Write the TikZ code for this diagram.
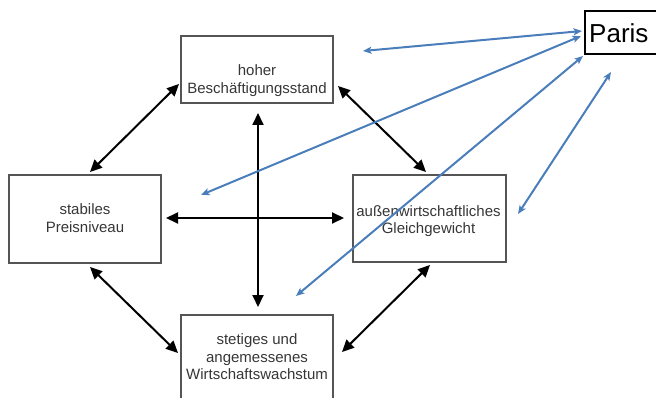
\documentclass[tikz,border=0pt]{standalone}
\usepackage{fontspec}
\setmainfont{Liberation Sans}
\usetikzlibrary{arrows.meta}
\definecolor{boxgray}{HTML}{555555}
\definecolor{txtgray}{HTML}{363636}
\definecolor{linkblue}{HTML}{4A7EBB}
\begin{document}
\begin{tikzpicture}[x=1pt,y=-1pt,
  goal/.style={draw=boxgray, line width=1.3pt, rectangle, inner sep=0pt},
  goaltext/.style={text=txtgray, align=center, inner sep=0pt,
    font=\fontsize{15}{17.5}\selectfont},
  link/.style={black, line width=2pt,
    {Triangle[length=12pt,width=11pt]}-{Triangle[length=12pt,width=11pt]}},
  bluelink/.style={linkblue, line width=2pt,
    {Stealth[length=8.5pt,width=7pt,inset=2pt]}-{Stealth[length=8.5pt,width=7pt,inset=2pt]}}
]
\useasboundingbox (0,0) rectangle (656,398);
\clip (0,0) rectangle (656,398);

% the four goals
\node[goal, minimum width=152pt, minimum height=67pt] (hbox) at (257,69.5) {};
\node[goaltext] (htext) at (257,80.5) {hoher\\Beschäftigungsstand};

\node[goal, minimum width=152pt, minimum height=88pt] (sbox) at (85,219) {};
\node[goaltext] (stext) at (85,218) {stabiles\\Preisniveau};

\node[goal, minimum width=153pt, minimum height=87pt] (abox) at (429.5,218.5) {};
\node[goaltext] (atext) at (428.5,221) {außenwirtschaftliches\\Gleichgewicht};

\node[goal, minimum width=152pt, minimum height=88pt] (wbox) at (257,359) {};
\node[goaltext] (wtext) at (257,357) {stetiges und\\angemessenes\\Wirtschaftswachstum};

% Paris
\node[draw=black, line width=1.2pt, rectangle, inner sep=0pt,
      minimum width=75pt, minimum height=43pt] (pbox) at (622.5,32.5) {};
\node[anchor=base west, inner sep=0pt, font=\fontsize{26}{30}\selectfont] (ptext) at (589,43) {Paris};

% arrow end points
\coordinate (hsw) at (179,84);   \coordinate (snw) at (90,172);
\coordinate (hse) at (338,86);   \coordinate (anw) at (426,172);
\coordinate (ssw) at (90,267);   \coordinate (wnw) at (178,353);
\coordinate (asw) at (430,265);  \coordinate (wne) at (342,352);
\coordinate (hs)  at (258,113);  \coordinate (wn)  at (258,307);
\coordinate (se)  at (166,218);  \coordinate (aw)  at (344,218);

\coordinate (hr) at (363,51);    \coordinate (p1) at (582,31);
\coordinate (sr) at (201,195);   \coordinate (p2) at (581,36);
\coordinate (wr) at (296,296);   \coordinate (p3) at (583,56);
\coordinate (ar) at (518,214);   \coordinate (p4) at (611,72);

% links between the goals
\draw[link] (snw) -- (hsw);
\draw[link] (hse) -- (anw);
\draw[link] (ssw) -- (wnw);
\draw[link] (wne) -- (asw);
\draw[link] (hs) -- (wn);
\draw[link] (se) -- (aw);

% links to Paris
\draw[bluelink] (hr) -- (p1);
\draw[bluelink] (sr) -- (p2);
\draw[bluelink] (wr) -- (p3);
\draw[bluelink] (ar) -- (p4);
\end{tikzpicture}
\end{document}
